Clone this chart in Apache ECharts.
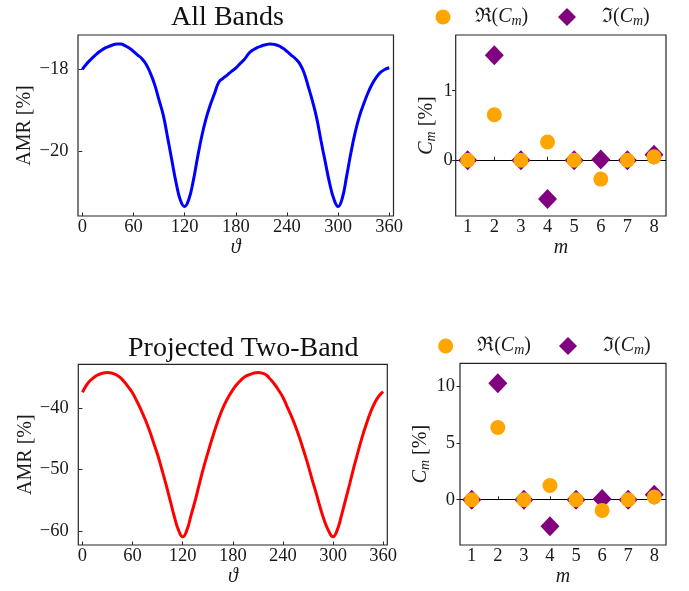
<!DOCTYPE html>
<html><head><meta charset="utf-8">
<script src="https://cdn.jsdelivr.net/npm/echarts@6/dist/echarts.min.js"></script>
<style>html,body{margin:0;padding:0;background:#fff}#c{width:689px;height:591px}</style>
</head><body><div id="c"></div>
<script>
// ---- data ----
const theta = [0,5,10,15,20,25,30,35,40,45,50,55,60,65,70,75,80,85,90,95,100,105,110,115,120,125,130,135,140,145,150,155,160,165,170,175,180,
  185,190,195,200,205,210,215,220,225,230,235,240,245,250,255,260,265,270,275,280,285,290,295,300,305,310,315,320,325,330,335,340,345,350,355,360];
const amrAllBands = [-18.00,-17.87,-17.76,-17.66,-17.57,-17.50,-17.45,-17.41,-17.38,-17.38,-17.42,-17.48,-17.56,-17.65,-17.74,-17.88,-18.10,-18.38,-18.75,-19.12,-19.66,-20.22,-20.77,-21.20,-21.36,-21.18,-20.75,-20.18,-19.65,-19.22,-18.88,-18.60,-18.32,-18.22,-18.14,-18.05,-17.97,
  -17.86,-17.76,-17.62,-17.53,-17.47,-17.43,-17.40,-17.38,-17.39,-17.42,-17.48,-17.56,-17.65,-17.74,-17.86,-18.08,-18.42,-18.78,-19.20,-19.75,-20.27,-20.78,-21.17,-21.36,-21.15,-20.62,-20.05,-19.55,-19.15,-18.85,-18.58,-18.36,-18.19,-18.07,-18.00,-17.96];
const amrTwoBand = [-37.5,-36.3,-35.5,-34.95,-34.6,-34.38,-34.31,-34.4,-34.65,-35.1,-35.8,-36.65,-37.6,-38.9,-40.3,-41.85,-43.6,-45.6,-47.6,-49.95,-52.4,-55.0,-57.6,-59.8,-60.87,-59.8,-57.4,-55.0,-52.3,-49.7,-47.35,-45.1,-43.0,-41.1,-39.5,-38.2,-37.1,
  -36.2,-35.5,-34.95,-34.65,-34.4,-34.3,-34.4,-34.7,-35.4,-36.2,-37.2,-38.3,-39.8,-41.3,-43.0,-44.9,-47.0,-49.2,-51.6,-53.9,-56.3,-58.4,-60.0,-60.87,-59.8,-57.5,-54.9,-52.3,-49.6,-47.1,-44.7,-42.6,-40.7,-39.2,-38.1,-37.4];
const mValues = [1,2,3,4,5,6,7,8];
const reAllBands = [0,0.655,0,0.263,0,-0.27,0,0.05];
const imAllBands = [0,1.51,0,-0.555,0,0.01,0,0.08];
const reTwoBand = [0,6.38,0,1.26,0,-0.94,0,0.24];
const imTwoBand = [0,10.29,0,-2.35,0,0.06,0,0.44];
const thetaTicks = [0,60,120,180,240,300,360];
const mTicks = [1,2,3,4,5,6,7,8];
const amrAllTicks = [-20,-18];
const amrTwoTicks = [-60,-50,-40];
const cAllTicks = [0,1];
const cTwoTicks = [0,5,10];
const titles = ['All Bands','Projected Two-Band'];

// ---- styling ----
const SERIF = "'Liberation Serif','DejaVu Serif',serif";
const INK = '#1a1a1a';
const fmtNum = v => (v < 0 ? '\u2212' : '') + Math.abs(v);
const subRich = {
  r:{fontFamily:SERIF,fontSize:20,color:INK},
  c:{fontFamily:SERIF,fontSize:20,fontStyle:'italic',color:INK},
  s:{fontFamily:SERIF,fontSize:14,fontStyle:'italic',color:INK,padding:[9,0,0,0]},
  p:{width:19}, q:{width:21}
};

function xAxis(grid, min, max, ticks, name, nameGap, nameItalic){
  return {type:'value', gridIndex:grid, min, max, name, nameLocation:'middle', nameGap,
    nameTextStyle:{fontFamily:SERIF,fontSize:20,color:INK,fontStyle:nameItalic?'italic':'normal'},
    axisLine:{show:false}, splitLine:{show:false},
    axisTick:{show:true,inside:true,length:3.5,customValues:ticks,lineStyle:{color:'#262626',width:1}},
    axisLabel:{customValues:ticks,margin:2,fontFamily:SERIF,fontSize:18.5,color:INK,formatter:fmtNum}};
}
function yAxis(grid, min, max, ticks, name, nameGap, margin, rich){
  return {type:'value', gridIndex:grid, min, max, name, nameLocation:'middle', nameGap,
    nameTextStyle:{fontFamily:SERIF,fontSize:20,color:INK,rich:rich},
    axisLine:{show:false}, splitLine:{show:false},
    axisTick:{show:true,inside:false,length:3.5,customValues:ticks,lineStyle:{color:'#262626',width:1}},
    axisLabel:{customValues:ticks,margin,fontFamily:SERIF,fontSize:18.5,color:INK,formatter:fmtNum}};
}
const gridBase = {show:true,borderColor:'#262626',borderWidth:1.2,backgroundColor:'transparent',containLabel:false,outerBoundsMode:'none'};
function legend(name, icon, size, left, top, fmt){
  return {data:[{name, icon}], left, top, padding:0, itemWidth:size, itemHeight:size, selectedMode:false,
    formatter:()=>fmt, textStyle:{fontFamily:SERIF,fontSize:20,color:INK,rich:subRich}};
}
const RE = 'Re(C_m)', IM = 'Im(C_m)';
const reFmt = '{p|}{r|\u211C(}{c|C}{s|m}{r|)}';
const imFmt = '{q|}{r|\u2111(}{c|C}{s|m}{r|)}';
const cName = '{c|C}{s|m}{r| [%]}';

function pairs(xs, ys){ return xs.map((x,i)=>[x, ys[i]]); }
const zeroLine = {silent:true, z:1, symbol:['none','none'], label:{show:false},
  lineStyle:{color:'#000',width:1.2,type:'solid'}, emphasis:{disabled:true}, data:[{yAxis:0}]};

const option = {
  animation:false,
  backgroundColor:'#fff',
  grid:[
    Object.assign({left:78, top:35, width:315.5, height:181}, gridBase),
    Object.assign({left:455.7, top:35, width:210.3, height:181}, gridBase),
    Object.assign({left:78.3, top:364.3, width:309, height:180.7}, gridBase),
    Object.assign({left:460, top:363.3, width:206, height:181.7}, gridBase)
  ],
  xAxis:[
    xAxis(0,-5,365,thetaTicks,'\u03D1',18,true),
    xAxis(1,0.55,8.45,mTicks,'m',22,true),
    xAxis(2,-5,365,thetaTicks,'\u03D1',19,true),
    xAxis(3,0.55,8.45,mTicks,'m',21,true)
  ],
  yAxis:[
    yAxis(0,-21.59,-17.16,amrAllTicks,'AMR [%]',43,9.5),
    yAxis(1,-0.8,1.8,cAllTicks,cName,17.7,3,subRich),
    yAxis(2,-62.2,-32.97,amrTwoTicks,'AMR [%]',43,9.5),
    yAxis(3,-4,12.06,cTwoTicks,cName,24,5,subRich)
  ],
  legend:[
    legend(RE,'circle',15,435.5,7,reFmt),
    legend(IM,'diamond',18,558,7,imFmt),
    legend(RE,'circle',15,438.2,336,reFmt),
    legend(IM,'diamond',18,559,336,imFmt)
  ],
  graphic:[
    {type:'text', x:227.5, y:17.3, style:{text:titles[0], font:"28px "+SERIF, fill:'#111', align:'center', verticalAlign:'middle'}},
    {type:'text', x:243.3, y:348.9, style:{text:titles[1], font:"28px "+SERIF, fill:'#111', align:'center', verticalAlign:'middle'}}
  ],
  series:[
    {type:'line', xAxisIndex:0, yAxisIndex:0, data:pairs(theta, amrAllBands), showSymbol:false, smooth:0.45,
      lineStyle:{color:'#0000ff', width:3}, itemStyle:{color:'#0000ff'}},
    {type:'line', xAxisIndex:2, yAxisIndex:2, data:pairs(theta, amrTwoBand), showSymbol:false, smooth:0.5,
      lineStyle:{color:'#ff0000', width:3}, itemStyle:{color:'#ff0000'}},
    {name:IM, type:'scatter', xAxisIndex:1, yAxisIndex:1, data:pairs(mValues, imAllBands), symbol:'diamond', symbolSize:[19,20],
      itemStyle:{color:'#800080', opacity:1}, markLine:zeroLine},
    {name:RE, type:'scatter', xAxisIndex:1, yAxisIndex:1, data:pairs(mValues, reAllBands), symbol:'circle', symbolSize:15,
      itemStyle:{color:'#FFA500', opacity:1}},
    {name:IM, type:'scatter', xAxisIndex:3, yAxisIndex:3, data:pairs(mValues, imTwoBand), symbol:'diamond', symbolSize:[19,20],
      itemStyle:{color:'#800080', opacity:1}, markLine:zeroLine},
    {name:RE, type:'scatter', xAxisIndex:3, yAxisIndex:3, data:pairs(mValues, reTwoBand), symbol:'circle', symbolSize:15,
      itemStyle:{color:'#FFA500', opacity:1}}
  ]
};
const chart = echarts.init(document.getElementById('c'), null, {renderer:'canvas'});
chart.setOption(option);
</script></body></html>
